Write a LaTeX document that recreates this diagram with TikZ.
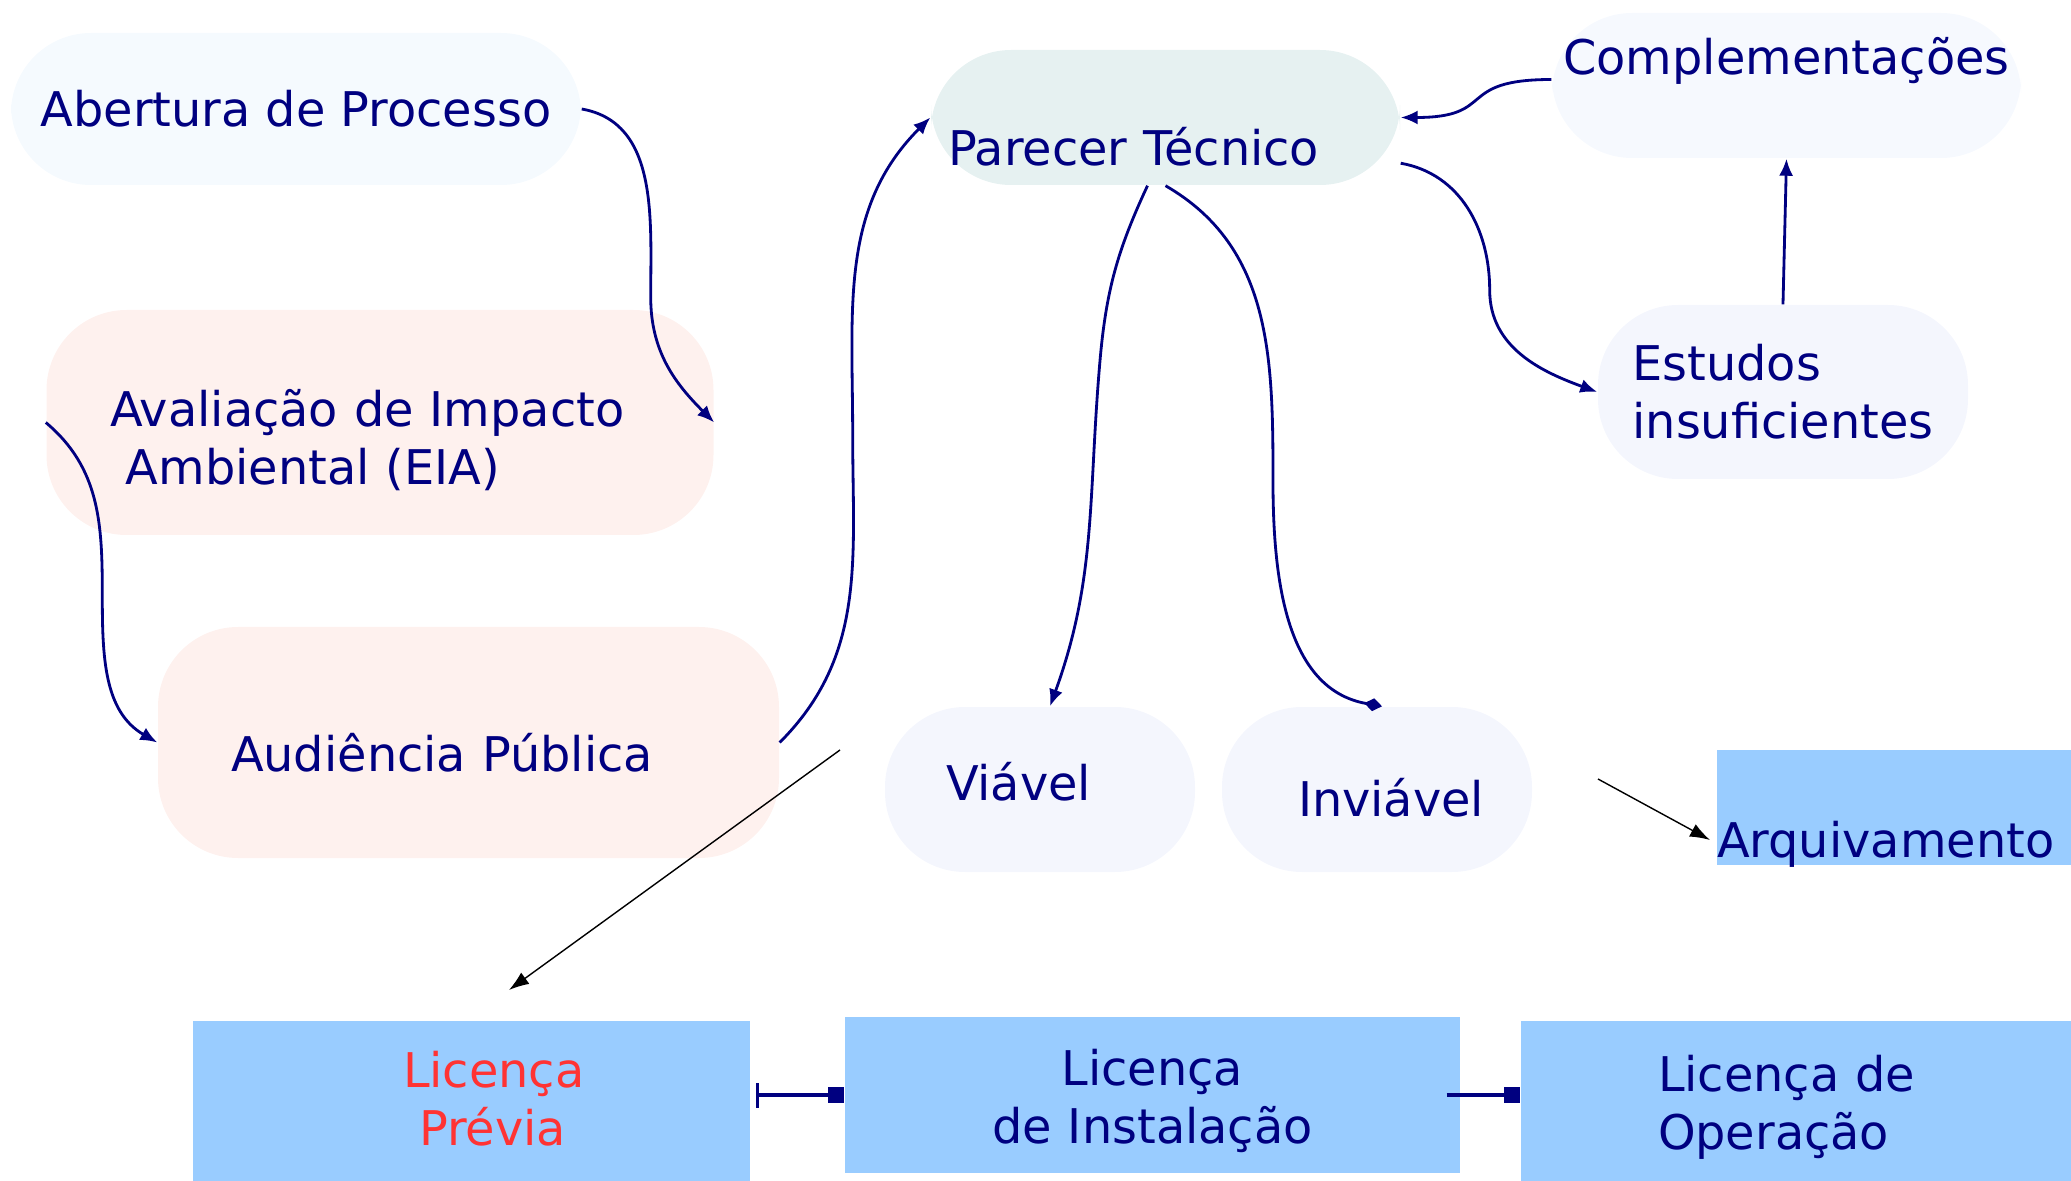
\documentclass[tikz,border=0pt]{standalone}
\usepackage{fontspec}
\setmainfont{DejaVu Sans}
\usepackage{xcolor}
\usepackage{tikz}
\usetikzlibrary{positioning, arrows.meta, calc}

\definecolor{navyline}{RGB}{0,0,128}
\definecolor{boxblue}{HTML}{99CCFF}
\definecolor{prevred}{HTML}{FF3333}
\definecolor{abertfill}{HTML}{F5FAFE}
\definecolor{rosefill}{HTML}{FEF1EE}
\definecolor{parfill}{HTML}{E6F1F1}
\definecolor{compfill}{HTML}{F6F9FE}
\definecolor{lilacfill}{HTML}{F4F6FD}

\begin{document}
\begin{tikzpicture}[
    bubble/.style={rectangle, rounded corners=0.8cm, inner sep=0pt, align=center, text=navyline, font=\fontsize{13.6}{16.5}\selectfont},
    lbox/.style={rectangle, fill=boxblue, inner sep=0pt, align=center, text=navyline, font=\fontsize{13.6}{16.5}\selectfont},
    link/.style={-{Latex[length=1.7mm,width=1.4mm]}, line width=0.8pt, draw=navyline},
    thinarrow/.style={-{Latex[length=2mm,width=1.4mm]}, line width=0.4pt, draw=black},
    sqlink/.style={line width=1.4pt, draw=navyline}
]
    \useasboundingbox (0,0) rectangle (20.71,-11.81);

    \node [bubble, fill=abertfill, minimum width=5.70cm, minimum height=1.52cm] (aber) at (2.96,-1.09) {Abertura de Processo};
    \node [bubble, fill=rosefill, text width=5.40cm, inner xsep=0.635cm, align=left, text height=1.165cm, text depth=1.085cm] (eia) at (3.80,-4.225) {Avaliação de Impacto\\\ Ambiental (EIA)};
    \node [bubble, fill=rosefill, text width=4.75cm, inner xsep=0.73cm, align=left, text height=1.445cm, text depth=0.865cm] (aud) at (4.685,-7.425) {Audiência Pública};
    \node [bubble, fill=parfill, text width=4.35cm, inner xsep=0.17cm, align=left, text height=1.155cm, text depth=0.195cm] (par) at (11.655,-1.175) {Parecer Técnico};
    \node [bubble, fill=compfill, text width=4.69cm, text height=0.615cm, text depth=0.835cm] (comp) at (17.865,-0.855) {Complementações};
    \node [bubble, fill=lilacfill, minimum width=3.70cm, minimum height=1.74cm, align=left] (est) at (17.83,-3.92) {Estudos\\insuficientes};
    \node [bubble, fill=lilacfill, text width=1.88cm, inner xsep=0.61cm, align=left, text height=0.935cm, text depth=0.715cm] (via) at (10.40,-7.895) {Viável};
    \node [bubble, fill=lilacfill, text width=1.58cm, inner xsep=0.76cm, align=left, text height=1.095cm, text depth=0.555cm] (inv) at (13.77,-7.895) {Inviável};

    \node [lbox, text width=3.54cm, align=left, text height=1.075cm, text depth=0.075cm] (arq) at (18.94,-8.075) {Arquivamento};
    \node [lbox, text width=1.37cm, inner xsep=2.10cm, align=left, text height=0.665cm, text depth=0.935cm, text=prevred] (lp) at (4.715,-11.01) {Licença\\\hspace*{0.16cm}Prévia};
    \node [lbox, text width=6.15cm, text height=0.685cm, text depth=0.875cm] (li) at (11.525,-10.95) {Licença\\de Instalação};
    \node [lbox, text width=2.76cm, inner xsep=1.37cm, align=left, text height=0.705cm, text depth=0.895cm] (lo) at (17.96,-11.01) {Licença de\\Operação};

    \coordinate (viafrom) at (8.40,-7.50);
    \coordinate (viato) at (5.09,-9.90);
    \coordinate (invfrom) at (15.98,-7.79);
    \coordinate (invto) at (17.10,-8.40);

    \draw [link] (aber.east) to[out=-10,in=90] ++(0.69,-1.88) to[out=-90,in=135] (eia.east);
    \draw [link] (eia.west) to[out=-40,in=90] ++(0.565,-1.715) to[out=-90,in=150] (aud.west);
    \draw [link] (aud.east) to[out=45,in=-90] ++(0.73,3.065) to[out=90,in=-135] (par.west);
    \draw [link] ([yshift=0.06cm]comp.west) to[out=180,in=0,looseness=1.6] (par.east);
    \draw [link] (par.-11) to[out=-10,in=90] ++(0.89,-1.27) to[out=-90,in=160] (est.west);
    \draw [link] (est.north) -- (comp.south);
    \draw [link] ([xshift=-0.18cm]par.south) to[out=-115,in=85] ++(-0.475,-1.75) to[out=-95,in=70] ([xshift=0.1cm]via.north);
    \draw [link, -{Diamond[length=1.8mm,width=1.3mm]}] (par.south) to[out=-30,in=90] ++(1.075,-2.95) to[out=-90,in=170] ([xshift=0.05cm]inv.north);

    \draw [thinarrow] (viafrom) -- (viato);
    \draw [thinarrow] (invfrom) -- (invto);

    \draw [sqlink, {Bar[width=2.5mm,line width=0.8pt]}-{Square[length=1.6mm,width=1.6mm]}] ([xshift=0.05cm]lp.east |- li.west) -- (li.west);
    \draw [sqlink, -{Square[length=1.6mm,width=1.6mm]}] ([xshift=-0.14cm]li.east) -- (li.east -| lo.west);
\end{tikzpicture}
\end{document}
